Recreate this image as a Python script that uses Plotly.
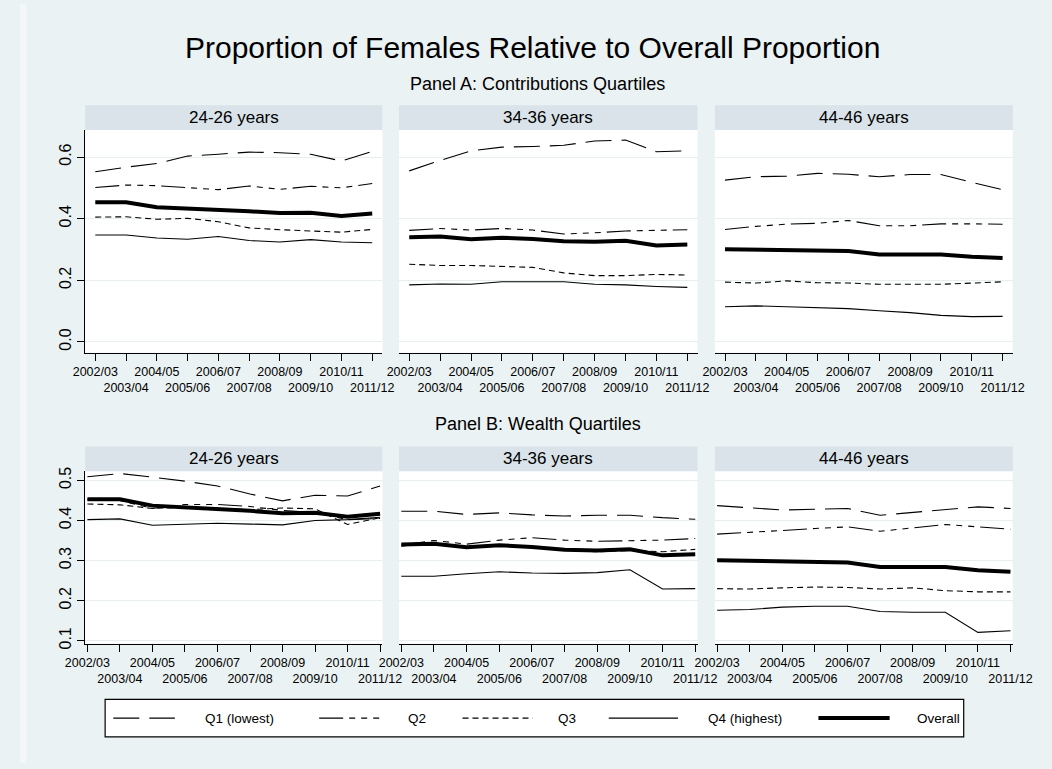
import plotly.graph_objects as go

# ---- data -------------------------------------------------------------
years = ["2002/03", "2003/04", "2004/05", "2005/06", "2006/07",
         "2007/08", "2008/09", "2009/10", "2010/11", "2011/12"]
age_groups = ["24-26 years", "34-36 years", "44-46 years"]
series_names = ["Q1 (lowest)", "Q2", "Q3", "Q4 (highest)", "Overall"]

# overall proportion of females, by age group
overall_24 = [0.453, 0.453, 0.437, 0.433, 0.430, 0.424, 0.418, 0.419, 0.409, 0.417]
overall_34 = [0.340, 0.342, 0.333, 0.338, 0.334, 0.327, 0.325, 0.328, 0.313, 0.316]
overall_44 = [0.301, 0.300, 0.297, 0.297, 0.295, 0.284, 0.285, 0.284, 0.276, 0.272]

# Panel A: contributions quartiles
contrib_q1_24 = [0.552, 0.567, 0.579, 0.603, 0.609, 0.616, 0.614, 0.609, 0.587, 0.618]
contrib_q2_24 = [0.501, 0.509, 0.507, 0.501, 0.494, 0.506, 0.495, 0.505, 0.500, 0.514]
contrib_q3_24 = [0.405, 0.406, 0.398, 0.401, 0.390, 0.370, 0.364, 0.361, 0.356, 0.365]
contrib_q4_24 = [0.347, 0.347, 0.337, 0.333, 0.342, 0.329, 0.324, 0.332, 0.324, 0.322]

contrib_q1_34 = [0.555, 0.589, 0.620, 0.632, 0.634, 0.638, 0.652, 0.655, 0.617, 0.620]
contrib_q2_34 = [0.362, 0.368, 0.363, 0.368, 0.363, 0.350, 0.354, 0.360, 0.362, 0.364]
contrib_q3_34 = [0.252, 0.248, 0.248, 0.244, 0.242, 0.224, 0.215, 0.215, 0.219, 0.217]
contrib_q4_34 = [0.185, 0.188, 0.187, 0.195, 0.195, 0.195, 0.187, 0.185, 0.180, 0.177]

contrib_q1_44 = [0.525, 0.536, 0.538, 0.547, 0.544, 0.536, 0.543, 0.543, 0.518, 0.494]
contrib_q2_44 = [0.365, 0.375, 0.382, 0.385, 0.394, 0.377, 0.377, 0.383, 0.383, 0.382]
contrib_q3_44 = [0.194, 0.191, 0.198, 0.192, 0.191, 0.187, 0.187, 0.187, 0.191, 0.195]
contrib_q4_44 = [0.114, 0.117, 0.114, 0.112, 0.108, 0.101, 0.095, 0.086, 0.082, 0.083]

# Panel B: wealth quartiles
wealth_q1_24 = [0.509, 0.517, 0.508, 0.498, 0.486, 0.466, 0.449, 0.463, 0.461, 0.486]
wealth_q2_24 = [0.452, 0.450, 0.430, 0.440, 0.440, 0.435, 0.425, 0.420, 0.402, 0.405]
wealth_q3_24 = [0.441, 0.439, 0.430, 0.433, 0.430, 0.427, 0.431, 0.429, 0.390, 0.407]
wealth_q4_24 = [0.402, 0.404, 0.388, 0.390, 0.393, 0.391, 0.389, 0.400, 0.402, 0.408]

wealth_q1_34 = [0.423, 0.423, 0.415, 0.419, 0.414, 0.411, 0.413, 0.413, 0.407, 0.403]
wealth_q2_34 = [0.339, 0.350, 0.341, 0.351, 0.357, 0.351, 0.348, 0.349, 0.351, 0.355]
wealth_q3_34 = [0.336, 0.344, 0.334, 0.339, 0.334, 0.326, 0.322, 0.325, 0.322, 0.328]
wealth_q4_34 = [0.261, 0.261, 0.267, 0.272, 0.269, 0.268, 0.270, 0.277, 0.229, 0.230]

wealth_q1_44 = [0.437, 0.431, 0.426, 0.428, 0.430, 0.413, 0.420, 0.427, 0.434, 0.430]
wealth_q2_44 = [0.366, 0.370, 0.375, 0.380, 0.384, 0.373, 0.381, 0.390, 0.384, 0.378]
wealth_q3_44 = [0.230, 0.229, 0.232, 0.234, 0.233, 0.229, 0.232, 0.225, 0.222, 0.222]
wealth_q4_44 = [0.176, 0.178, 0.184, 0.186, 0.186, 0.173, 0.171, 0.171, 0.121, 0.125]

panel_a = [
    [contrib_q1_24, contrib_q2_24, contrib_q3_24, contrib_q4_24, overall_24],
    [contrib_q1_34, contrib_q2_34, contrib_q3_34, contrib_q4_34, overall_34],
    [contrib_q1_44, contrib_q2_44, contrib_q3_44, contrib_q4_44, overall_44],
]
panel_b = [
    [wealth_q1_24, wealth_q2_24, wealth_q3_24, wealth_q4_24, overall_24],
    [wealth_q1_34, wealth_q2_34, wealth_q3_34, wealth_q4_34, overall_34],
    [wealth_q1_44, wealth_q2_44, wealth_q3_44, wealth_q4_44, overall_44],
]

yticks_a = [0.0, 0.2, 0.4, 0.6]
yticks_b = [0.1, 0.2, 0.3, 0.4, 0.5]

# ---- styling -----------------------------------------------------------
W, H = 1052, 769
FONT = "Arial, Liberation Sans, Helvetica, sans-serif"
BG = "#EAF2F3"
EDGE = "#F3F7F8"
STRIP = "#D9E3E9"
GRID = "#E6EEF0"
INK = "#000000"

line_styles = [
    dict(width=1.1, dash="26px,10px"),
    dict(width=1.1, dash="24px,6px,6px,6px,6px,6px,6px,6px"),
    dict(width=1.1, dash="6px,4px"),
    dict(width=1.1, dash="solid"),
    dict(width=4.0, dash="solid"),
]


def fx(x):
    return x / W


def fy(y):
    return 1 - y / H


cols = [(67.7, 376.7), (394.0, 704.3), (722.3, 1032.0)]
row_a = (127.7, 353.3)
row_b = (473.3, 648.0)
strip_h = 25.0

fig = go.Figure()
layout = dict(
    width=W, height=H,
    margin=dict(l=0, r=0, t=0, b=0),
    paper_bgcolor=BG, plot_bgcolor="white",
    font=dict(family=FONT, color=INK),
    showlegend=False,
)
# thin lighter band along the left edge of the graph region
shapes = [dict(type="rect", xref="paper", yref="paper",
               x0=0, x1=fx(7), y0=0, y1=1,
               fillcolor=EDGE, line=dict(width=0), layer="below")]
annotations = []

panels = []
for r, (row, data, yticks, yrange, xrange) in enumerate([
        (row_a, panel_a, yticks_a, [-0.035, 0.6875], [-0.33, 9.33]),
        (row_b, panel_b, yticks_b, [0.093, 0.523], [-0.07, 9.07])]):
    for c in range(3):
        panels.append((r, c, row, data[c], yticks, yrange, xrange))

for k, (r, c, row, series, yticks, yrange, xrange) in enumerate(panels):
    n = k + 1
    xname = "xaxis" if n == 1 else f"xaxis{n}"
    yname = "yaxis" if n == 1 else f"yaxis{n}"
    xref = "x" if n == 1 else f"x{n}"
    yref = "y" if n == 1 else f"y{n}"
    x0, x1 = cols[c]
    top, bottom = row

    # staggered year labels: odd years drop to a second row
    ticktext = [y if i % 2 == 0 else "<br>" + y for i, y in enumerate(years)]
    layout[xname] = dict(
        domain=[fx(x0), fx(x1)], anchor=yref, range=xrange,
        tickmode="array", tickvals=list(range(len(years))), ticktext=ticktext,
        tickfont=dict(size=12.5, family=FONT, color=INK),
        ticks="outside", ticklen=7, tickwidth=1.2, tickcolor=INK,
        showline=True, linecolor=INK, linewidth=1.3,
        showgrid=False, zeroline=False, tickangle=0,
    )
    layout[yname] = dict(
        domain=[fy(bottom), fy(top)], anchor=xref, range=yrange,
        tickmode="array", tickvals=yticks,
        ticktext=[f"{v:.1f}" for v in yticks],
        showticklabels=(c == 0), tickangle=-90,
        tickfont=dict(size=16, family=FONT, color=INK),
        ticks="outside" if c == 0 else "", ticklen=7, tickwidth=1.2,
        tickcolor=INK,
        showline=(c == 0), linecolor=INK, linewidth=1.3,
        showgrid=True, gridcolor=GRID, gridwidth=1, zeroline=False,
    )

    for s, (name, vals) in enumerate(zip(series_names, series)):
        fig.add_trace(go.Scatter(
            x=list(range(len(years))), y=vals, name=name, mode="lines",
            line=dict(color=INK, **line_styles[s]),
            xaxis=xref, yaxis=yref, hovertemplate="%{y:.3f}<extra>" + name + "</extra>",
        ))

    # facet strip
    shapes.append(dict(type="rect", xref="paper", yref="paper",
                       x0=fx(x0), x1=fx(x1), y0=fy(top), y1=fy(top - strip_h),
                       fillcolor=STRIP, line=dict(width=0), layer="below"))
    annotations.append(dict(text=age_groups[c], xref="paper", yref="paper",
                            x=fx((x0 + x1) / 2), y=fy(top - strip_h / 2),
                            showarrow=False, xanchor="center", yanchor="middle",
                            font=dict(size=17, family=FONT, color=INK)))

# titles
annotations.append(dict(text="Proportion of Females Relative to Overall Proportion",
                        xref="paper", yref="paper", x=fx(533), y=fy(44),
                        showarrow=False, xanchor="center", yanchor="middle",
                        font=dict(size=30, family=FONT, color=INK)))
annotations.append(dict(text="Panel A: Contributions Quartiles",
                        xref="paper", yref="paper", x=fx(538), y=fy(81),
                        showarrow=False, xanchor="center", yanchor="middle",
                        font=dict(size=18, family=FONT, color=INK)))
annotations.append(dict(text="Panel B: Wealth Quartiles",
                        xref="paper", yref="paper", x=fx(538), y=fy(426),
                        showarrow=False, xanchor="center", yanchor="middle",
                        font=dict(size=18, family=FONT, color=INK)))

# legend box drawn as a key row
leg_top, leg_bot = 704.5, 742.5
shapes.append(dict(type="rect", xref="paper", yref="paper",
                   x0=fx(88.5), x1=fx(981), y0=fy(leg_bot), y1=fy(leg_top),
                   fillcolor="white", line=dict(color=INK, width=1.2)))
key_spans = [(97, 161), (311, 376), (460, 533), (612, 684), (830, 904)]
label_x = [190, 401, 557, 713, 930]
ym = (leg_top + leg_bot) / 2
for s, name in enumerate(series_names):
    a, b = key_spans[s]
    shapes.append(dict(type="line", xref="paper", yref="paper",
                       x0=fx(a), x1=fx(b), y0=fy(ym), y1=fy(ym),
                       line=dict(color=INK, **line_styles[s])))
    annotations.append(dict(text=name, xref="paper", yref="paper",
                            x=fx(label_x[s]), y=fy(ym), showarrow=False,
                            xanchor="left", yanchor="middle",
                            font=dict(size=13.5, family=FONT, color=INK)))

layout["shapes"] = shapes
layout["annotations"] = annotations
fig.update_layout(**layout)
fig.write_html("out.html")
